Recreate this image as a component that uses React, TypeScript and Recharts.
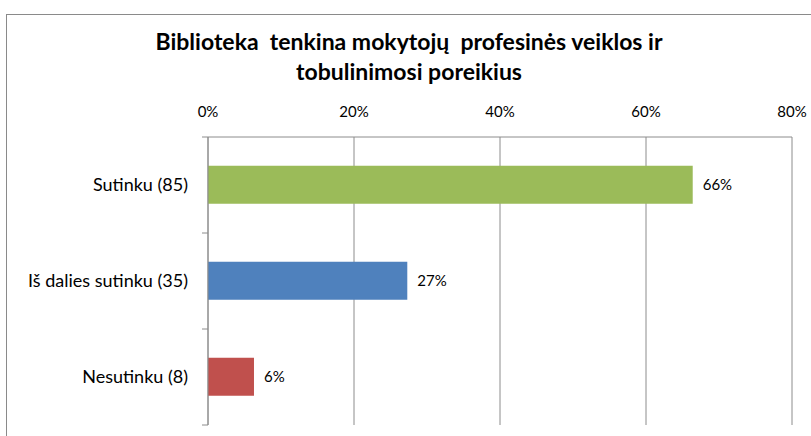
import React from 'react';
import { BarChart, Bar, XAxis, YAxis, CartesianGrid, Cell, LabelList } from 'recharts';

const categories = ['Sutinku (85)', 'Iš dalies sutinku (35)', 'Nesutinku (8)'];
const percentValues = [66.4, 27.3, 6.3];
const barColors = ['#9BBB59', '#4F81BD', '#C0504D'];
const xTicks = [0, 20, 40, 60, 80];

const chartData = categories.map((name, i) => ({ name, value: percentValues[i] }));

const FONT = 'Lato, "Open Sans", sans-serif';
const AXIS_GRAY = '#8c8c8c';
const LABEL_MARGIN = 20;
const MARK_LEN = 6;

// category label plus tick marks on the band edges (Excel style)
const CategoryTick = (props: any) => {
    const { x, y, payload, index, visibleTicksCount } = props;
    const half = payload?.offset ?? 0;
    const axisX = x + LABEL_MARGIN;
    const isLast = index === (visibleTicksCount ?? categories.length) - 1;
    return (
        <g>
            <line x1={axisX - MARK_LEN} x2={axisX} y1={y - half} y2={y - half} stroke={AXIS_GRAY} />
            {isLast && <line x1={axisX - MARK_LEN} x2={axisX} y1={y + half} y2={y + half} stroke={AXIS_GRAY} />}
            <text x={x} y={y} dy="0.35em" textAnchor="end" fontSize={18} fill="#000" fontFamily={FONT}>
                {payload.value}
            </text>
        </g>
    );
};

const App: React.FC = () => {
    return (
        <div style={{ position: 'absolute', left: 0, top: 0, width: 811, height: 436, background: '#fff', overflow: 'hidden', fontFamily: FONT }}>
            {/* chart frame, cut off at right and bottom like the screenshot */}
            <div style={{ position: 'absolute', left: 6, top: 14, width: 820, height: 440, border: '1px solid #8a8a8a' }} />
            <div
                style={{
                    position: 'absolute',
                    left: 0,
                    width: 818,
                    top: 26,
                    textAlign: 'center',
                    fontSize: 23,
                    fontWeight: 700,
                    lineHeight: '30px',
                    color: '#000',
                    whiteSpace: 'pre',
                }}
            >
                {'Biblioteka  tenkina mokytojų  profesinės veiklos ir\ntobulinimosi poreikius'}
            </div>
            <div style={{ position: 'absolute', left: 0, top: 0 }}>
                <BarChart
                    width={811}
                    height={436}
                    data={chartData}
                    layout="vertical"
                    barCategoryGap="30%"
                    margin={{ top: 107, right: 19, bottom: 11, left: 8 }}
                >
                    <CartesianGrid horizontal={false} stroke={AXIS_GRAY} strokeWidth={1} />
                    <XAxis
                        type="number"
                        orientation="top"
                        domain={[0, 80]}
                        ticks={xTicks}
                        tickFormatter={(v: number) => `${v}%`}
                        tick={{ fontSize: 15, fill: '#000', fontFamily: FONT }}
                        tickLine={false}
                        tickSize={0}
                        tickMargin={20}
                        axisLine={{ stroke: AXIS_GRAY }}
                        height={30}
                    />
                    <YAxis
                        type="category"
                        dataKey="name"
                        width={200}
                        tickLine={false}
                        tickSize={0}
                        tickMargin={LABEL_MARGIN}
                        axisLine={{ stroke: AXIS_GRAY }}
                        tick={<CategoryTick />}
                        interval={0}
                    />
                    <Bar dataKey="value" isAnimationActive={false}>
                        {chartData.map((entry, index) => (
                            <Cell key={`cell-${index}`} fill={barColors[index % barColors.length]} />
                        ))}
                        <LabelList
                            dataKey="value"
                            position="right"
                            offset={10}
                            formatter={(v: any) => `${Math.round(Number(v))}%`}
                            style={{ fontSize: 15, fill: '#000', fontFamily: FONT }}
                        />
                    </Bar>
                </BarChart>
            </div>
        </div>
    );
};

export default App;
